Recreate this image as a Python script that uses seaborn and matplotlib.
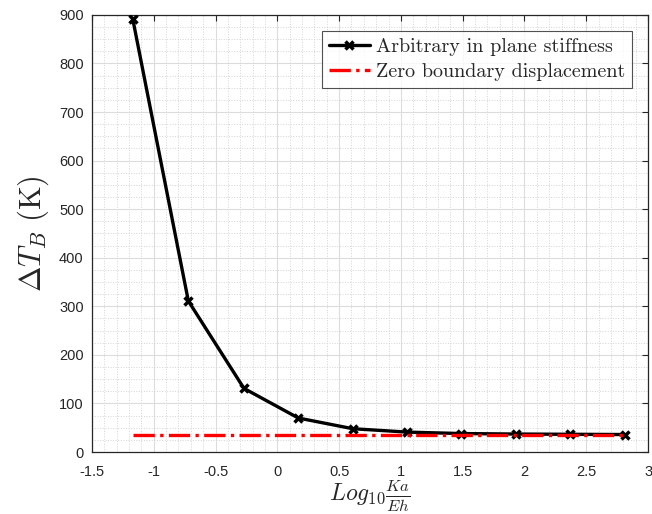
import matplotlib
matplotlib.use('Agg')
import matplotlib.pyplot as plt
import numpy as np
import pandas as pd
import seaborn as sns
from matplotlib.ticker import MultipleLocator, FuncFormatter

# data
log_ratio = [-1.17, -0.72, -0.27, 0.17, 0.61, 1.05, 1.49, 1.935, 2.37, 2.81]
delta_tb = [892, 311, 131, 70, 48, 41, 38, 37, 36.5, 36]
zero_disp_x = [-1.17, 2.81]
zero_disp_y = [36, 36]

sns.set_style('white')
plt.rcParams['mathtext.fontset'] = 'cm'
plt.rcParams['font.family'] = ['Liberation Sans', 'DejaVu Sans']

df = pd.DataFrame({'x': log_ratio, 'y': delta_tb})
df_zero = pd.DataFrame({'x': zero_disp_x, 'y': zero_disp_y})

fig = plt.figure(figsize=(6.52, 5.14), dpi=100)
ax = fig.add_axes([0.141, 0.1206, 0.853, 0.8504])

sns.lineplot(data=df, x='x', y='y', ax=ax, color='black', linewidth=2.4,
             marker='x', markersize=6, markeredgewidth=2.5, markeredgecolor='black',
             label='Arbitrary in plane stiffness', zorder=3)
sns.lineplot(data=df_zero, x='x', y='y', ax=ax, color='#ff0000', linewidth=2.4,
             linestyle='-.', label='Zero boundary displacement', zorder=4)

ax.set_xlim(-1.5, 3)
ax.set_ylim(0, 900)
ax.xaxis.set_major_locator(MultipleLocator(0.5))
ax.xaxis.set_minor_locator(MultipleLocator(0.1))
ax.yaxis.set_major_locator(MultipleLocator(100))
ax.yaxis.set_minor_locator(MultipleLocator(25))
ax.xaxis.set_major_formatter(FuncFormatter(lambda v, p: f'{v:g}'))

ax.grid(which='major', color='#dcdcdc', linewidth=0.8, linestyle='-')
ax.grid(which='minor', color='#d4d4d4', linewidth=0.7, linestyle=':')
ax.set_axisbelow(True)

ax.tick_params(which='both', direction='in', top=True, right=True,
               colors='#262626', labelsize=10.5, labelcolor='#262626')
ax.tick_params(which='minor', length=0)
ax.tick_params(which='major', length=4)
ax.tick_params(axis='x', pad=9)
ax.tick_params(axis='y', pad=6)
for s in ax.spines.values():
    s.set_color('#262626')
    s.set_linewidth(0.9)

ax.set_xlabel(r'$Log_{10}\frac{Ka}{Eh}$', fontsize=17, labelpad=0)
ax.set_ylabel(r'$\Delta T_B\ \mathrm{(K)}$', fontsize=22, labelpad=6)

leg = ax.legend(loc='upper right', prop={'family': 'cmr10', 'size': 14.5},
                frameon=True, fancybox=False, edgecolor='#262626',
                borderaxespad=0.8, handlelength=2.0, handletextpad=0.3,
                borderpad=0.35, labelspacing=0.35)
leg.get_frame().set_linewidth(0.8)

plt.savefig('out.png', dpi=100)
plt.close()
